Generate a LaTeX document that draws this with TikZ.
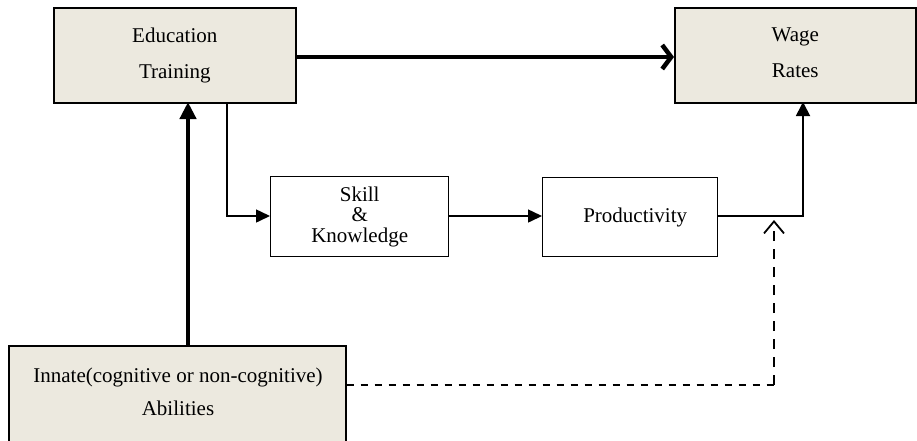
\documentclass[tikz,border=0pt]{standalone}
\usepackage{fontspec}
\setmainfont{Liberation Serif}
\usetikzlibrary{arrows.meta,calc}
\definecolor{boxfill}{HTML}{ECE9DF}
\begin{document}
\begin{tikzpicture}[x=1pt,y=-1pt,
  every node/.style={font=\fontsize{21}{36}\selectfont},
  beigebox/.style={draw=black,line width=1.6pt,fill=boxfill,inner sep=0pt,anchor=north west,align=center},
  whitebox/.style={draw=black,line width=1.4pt,fill=white,inner sep=0pt,anchor=north west,align=center},
  thickarrow/.style={line width=4.5pt},
  thinarrow/.style={line width=1.5pt,-{Triangle[length=14pt,width=13pt]}},
  dasharrow/.style={line width=1.8pt,-{Straight Barb[length=12pt,width=20pt,line width=1.8pt]}}
]
\useasboundingbox (0,0) rectangle (917,440);
\begin{scope}
\clip (0,0) rectangle (917,440);
\node[beigebox,minimum width=242pt,minimum height=95pt] (edu) at (53,7) {Education\\Training};
\node[beigebox,minimum width=241pt,minimum height=95pt] (wage) at (674,7) {Wage\\Rates\vphantom{g}};
\node[whitebox,minimum width=178pt,minimum height=80pt,font=\fontsize{21}{20.5}\selectfont] (skill) at (270,176) {Skill\\\&\\Knowledge};
\node[whitebox,minimum width=175pt,minimum height=79pt] (prod) at (542,177) {\hspace*{10pt}Productivity};
\node[beigebox,minimum width=337pt,minimum height=120pt] (innate) at (8,345) {};
\node[font=\fontsize{21}{33}\selectfont,align=center] (innatetxt) at (178,392) {Innate(cognitive or non-cognitive)\\Abilities};
\end{scope}
% coordinates
\coordinate (eduR) at (edu.east |- 0,57);
\coordinate (wageL) at (wage.west |- 0,57);
\coordinate (innT) at (188,345);
\coordinate (eduB) at (188,102);
\coordinate (eduB2) at (227,102);
\coordinate (skillL) at (skill.west |- 0,216);
\coordinate (skillR) at (skill.east |- 0,216);
\coordinate (prodL) at (prod.west |- 0,216);
\coordinate (prodR) at (prod.east |- 0,216);
\coordinate (wageB) at (803,102);
\coordinate (innR) at (innate.east |- 0,385);
\coordinate (dashTop) at (774,220);
% connectors
\draw[thickarrow,-{Straight Barb[length=9pt,width=24pt,line width=4.5pt]}] (eduR) -- (wageL);
\draw[thickarrow,-{Triangle[length=17pt,width=16pt]}] (innT) -- (eduB);
\draw[thinarrow] (eduB2) |- (skillL);
\draw[thinarrow] (skillR) -- (prodL);
\draw[line width=1.8pt,-{Triangle[length=14pt,width=14pt]}] (prodR) -| (wageB);
\draw[line width=1.8pt,dash pattern=on 7pt off 7pt] (innR) -- (774,385);
\draw[dasharrow,dash pattern=on 10pt off 8pt] (774,385) -- (dashTop);
\end{tikzpicture}
\end{document}
